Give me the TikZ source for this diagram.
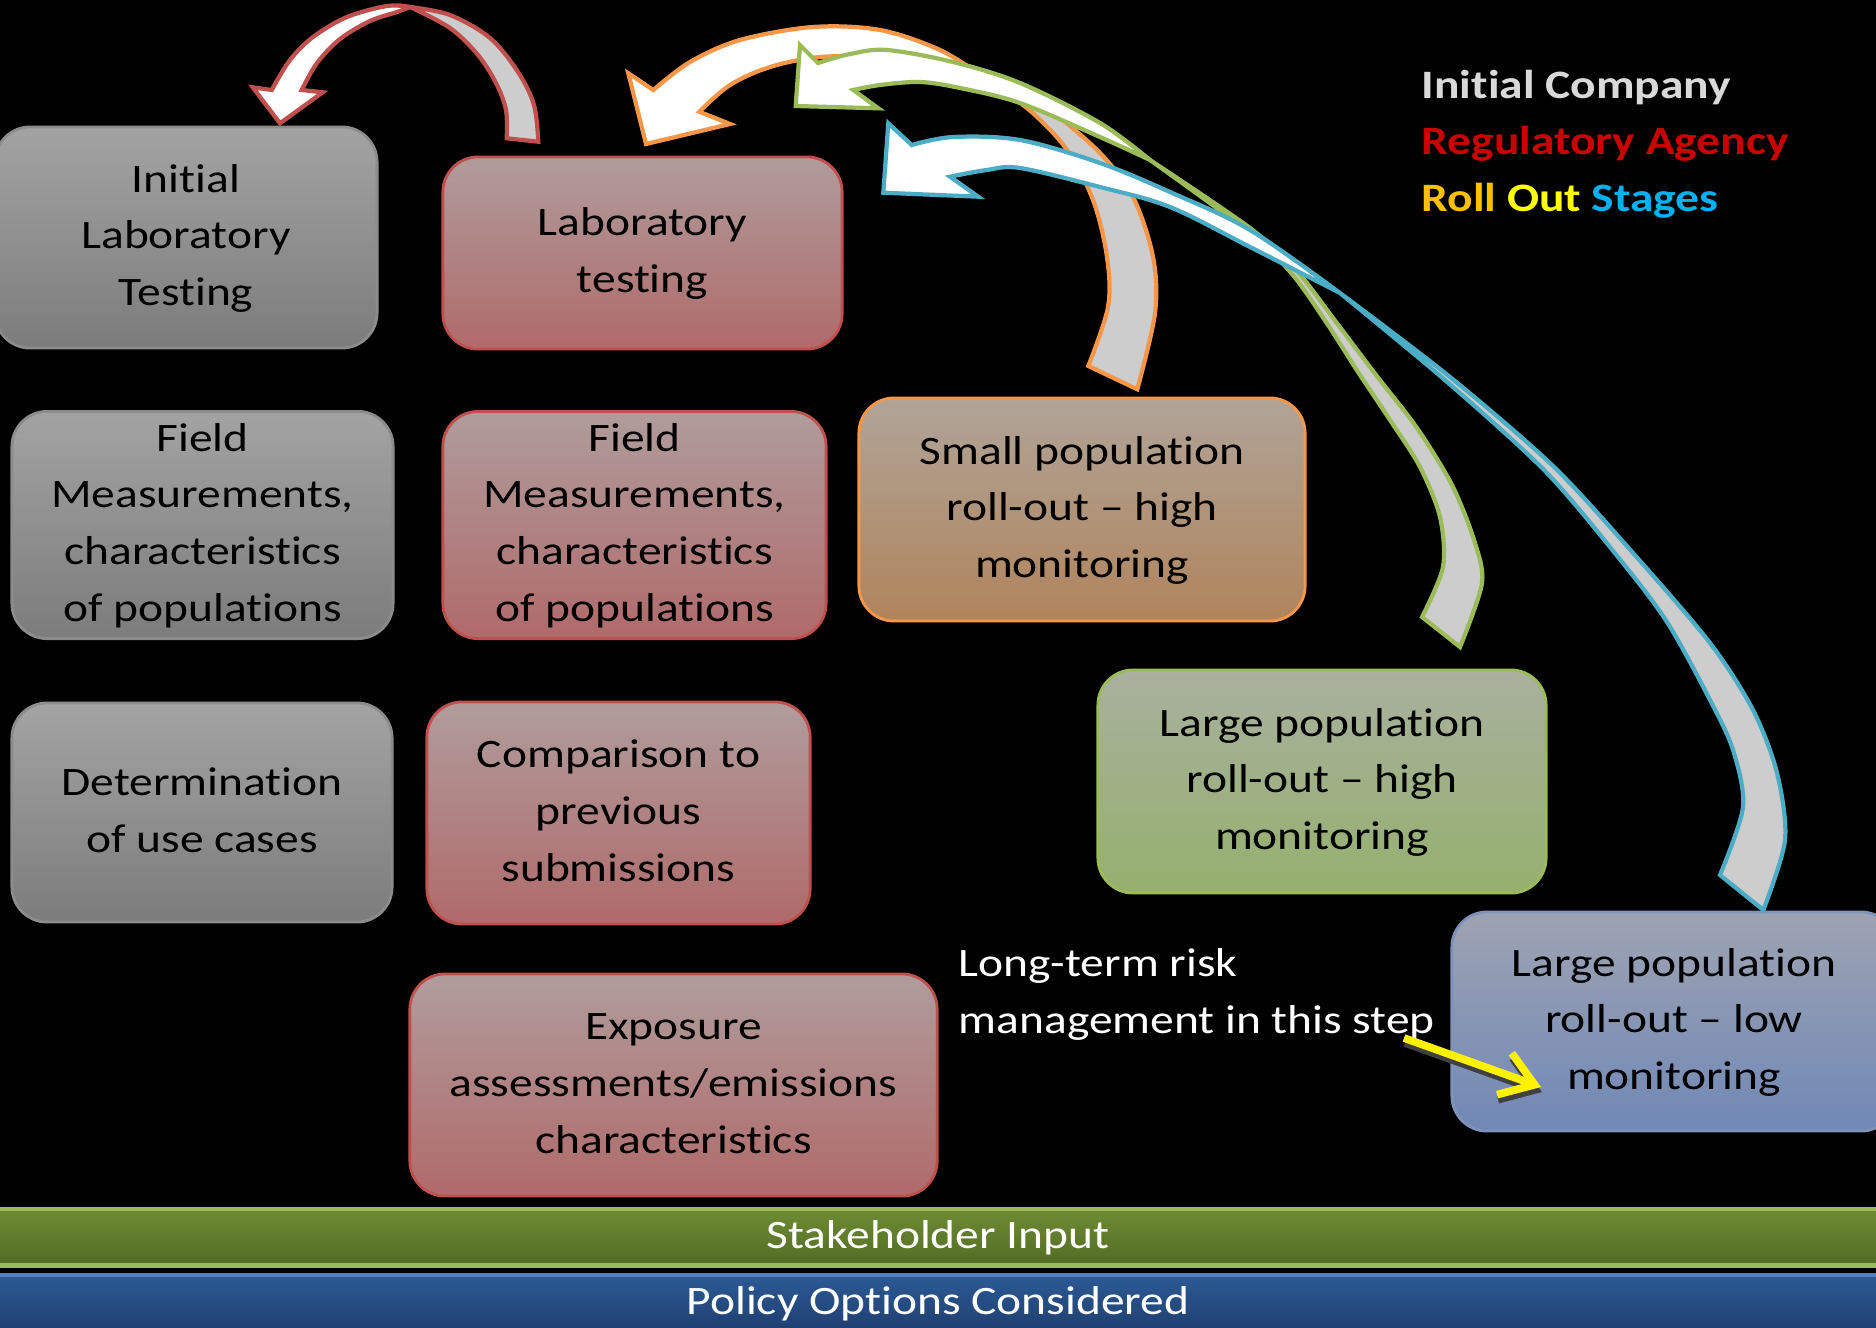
\documentclass[tikz,border=0pt]{standalone}
\usepackage{fontspec}
\setmainfont{Carlito}[Ligatures=NoCommon]
\usepackage{graphicx}
\usetikzlibrary{arrows.meta}

\definecolor{cobord}{HTML}{8C8C8C}
\definecolor{cotop}{HTML}{A3A3A3}
\definecolor{cobot}{HTML}{7C7C7C}
\definecolor{agbord}{HTML}{C0504D}
\definecolor{agtop}{HTML}{B09C9C}
\definecolor{agbot}{HTML}{B06A6A}
\definecolor{smbord}{HTML}{F79646}
\definecolor{smtop}{HTML}{B0A498}
\definecolor{smbot}{HTML}{B0845C}
\definecolor{lhbord}{HTML}{9BBB59}
\definecolor{lhtop}{HTML}{A9B09E}
\definecolor{lhbot}{HTML}{95B06E}
\definecolor{llbord}{HTML}{7F92B8}
\definecolor{lltop}{HTML}{9EA3B2}
\definecolor{llbot}{HTML}{7088B6}
\definecolor{turn}{HTML}{CDCDCD}
\definecolor{redarc}{HTML}{C0504D}
\definecolor{orangearc}{HTML}{F79646}
\definecolor{greenarc}{HTML}{9BBB59}
\definecolor{bluearc}{HTML}{4BACC6}
\definecolor{staketop}{HTML}{6E8C33}
\definecolor{stakebot}{HTML}{536B25}
\definecolor{policyline}{HTML}{4F81BD}
\definecolor{policytop}{HTML}{2C5A96}
\definecolor{policybot}{HTML}{1F3F6F}
\definecolor{cotext}{HTML}{D9D9D9}
\definecolor{agtext}{HTML}{CC0000}
\definecolor{rolltext}{HTML}{FFC000}
\definecolor{outtext}{HTML}{FFFF00}
\definecolor{stagestext}{HTML}{00B0F0}

\def\flatc#1{\scalebox{1}[0.85]{\begin{tabular}{@{}c@{}}#1\end{tabular}}}
\def\flatl#1{\scalebox{1}[0.85]{\begin{tabular}{@{}l@{}}#1\end{tabular}}}

\tikzset{
	stage/.style={rounded corners=10pt, inner sep=0pt, line width=0.8pt, font=\fontsize{13.5}{19}\selectfont},
	company/.style={stage, draw=cobord, top color=cotop, bottom color=cobot},
	agency/.style={stage, draw=agbord, top color=agtop, bottom color=agbot},
	smallpop/.style={stage, draw=smbord, top color=smtop, bottom color=smbot},
	largehigh/.style={stage, draw=lhbord, top color=lhtop, bottom color=lhbot},
	largelow/.style={stage, draw=llbord, top color=lltop, bottom color=llbot},
	bar/.style={inner sep=0pt, line width=1.2pt, text=white, font=\fontsize{13.5}{19}\selectfont},
	band/.style={line width=1.2pt, fill=white},
	backband/.style={line width=1.2pt, fill=turn},
	riskarrow/.style={line width=2.2pt, -{Straight Barb[length=3.2mm,width=4.4mm]}}
}

\begin{document}
\begin{tikzpicture}[x=0.01cm, y=-0.01cm]
			%%%%% BACKGROUND %%%%%
			\useasboundingbox (0,0) rectangle (1876,1327);
			\fill[black] (0,0) rectangle (1876,1327);
			
			%%%%% BOXES %%%%%
			\node[company, minimum width=3.82cm, minimum height=2.21cm] (iniLab) at (186,237.5) {\flatc{Initial\\Laboratory\\Testing}};
			\node[company, minimum width=3.81cm, minimum height=2.2cm] (coField) at (202.5,525) {\flatc{Field\\Measurements,\\characteristics\\of populations}};
			\node[company, minimum width=3.8cm, minimum height=2.19cm] (useCase) at (202,812.5) {\flatc{Determination\\of use cases}};
			
			\node[agency, minimum width=3.99cm, minimum height=1.92cm] (agLab) at (642.5,253) {\flatc{Laboratory\\testing}};
			\node[agency, minimum width=3.83cm, minimum height=2.22cm] (agField) at (634.5,525) {\flatc{Field\\Measurements,\\characteristics\\of populations}};
			\node[agency, minimum width=3.83cm, minimum height=2.22cm] (compare) at (618.5,813) {\flatc{Comparison to\\previous\\submissions}};
			\node[agency, minimum width=5.27cm, minimum height=2.22cm] (exposure) at (673.5,1085) {\flatc{Exposure\\assessments/emissions\\characteristics}};
			
			\node[smallpop, minimum width=4.46cm, minimum height=2.23cm] (smallHigh) at (1082,509.5) {\flatc{Small population\\roll-out -- high\\monitoring}};
			\node[largehigh, minimum width=4.48cm, minimum height=2.23cm] (largeHigh) at (1322,781.5) {\flatc{Large population\\roll-out -- high\\monitoring}};
			\node[largelow, minimum width=4.44cm, minimum height=2.19cm] (largeLow) at (1674,1021.5) {\flatc{Large population\\roll-out -- low\\monitoring}};
			
			%%%%% CURVED ARROWS %%%%%
			% red: lab testing back to initial testing
			\draw[backband, draw=redarc] plot[smooth, tension=.55] coordinates {(410,7) (450,15) (490,38) (518,72) (534,105) (538.3,141.7)} -- (506.7,138.3) -- plot[smooth, tension=.55] coordinates {(506.7,138.3) (506,110) (496,83) (478,55) (450,28) (410,7)} -- cycle;
			\draw[band, draw=redarc] (252.7,87.3) -- (271.7,90) -- plot[smooth, tension=.55] coordinates {(271.7,90) (290,60) (313,37) (347,17) (387,6) (410,7)} -- plot[smooth, tension=.55] coordinates {(410,7) (397,12) (370,21) (340,39) (317,63) (301.7,90)} -- (322.7,92.3) -- (280,123.3) -- cycle;
			
			% orange: small population roll-out
			\draw[backband, draw=orangearc] plot[smooth, tension=.55] coordinates {(985,78) (1015,88) (1050,110) (1100,153) (1133,197) (1153,257) (1155,313) (1137.3,389.3)} -- (1088.3,366) -- plot[smooth, tension=.55] coordinates {(1088.3,366) (1108,307) (1107,257) (1093,200) (1067,150) (1035,115) (1005,92) (985,78)} -- cycle;
			\draw[band, draw=orangearc] (628.3,73.3) -- (653.3,90) -- plot[smooth, tension=.55] coordinates {(653.3,90) (690,62) (740,40) (813,27) (880,30) (940,50) (985,78)} -- plot[smooth, tension=.55] coordinates {(985,78) (930,62) (880,57) (820,57) (770,67) (730,85) (699.3,111.7)} -- (730,124) -- (646,144) -- cycle;
			
			% green: large population, high monitoring
			\draw[backband, draw=greenarc] plot[smooth, tension=.5] coordinates {(1150,160) (1250,228) (1296,270) (1336,322) (1376,375) (1417,428) (1452,485) (1474,540) (1482,583) (1460,647)} -- (1422,617) -- plot[smooth, tension=.5] coordinates {(1422,617) (1443,567) (1440,517) (1420,467) (1390,420) (1358,372) (1326,322) (1292,274) (1250,233) (1150,160)} -- cycle;
			\draw[band, draw=greenarc] (800,45) -- (818,63) -- plot[smooth, tension=.55] coordinates {(818,63) (850,54) (887,50) (953,62) (1020,83) (1100,123) (1150,160)} -- plot[smooth, tension=.55] coordinates {(1150,160) (1100,137) (1020,103) (960,88) (920,82) (880,85) (853.3,90)} -- (878.3,108.3) -- (795.7,106) -- cycle;
			
			% blue: large population, low monitoring
			\draw[backband, draw=bluearc] plot[smooth, tension=.5] coordinates {(1340,293) (1450,377) (1553,466) (1633,553) (1710,643) (1753,710) (1777,773) (1785,840) (1763.3,910)} -- (1720,875) -- plot[smooth, tension=.5] coordinates {(1720,875) (1743,807) (1733,750) (1710,700) (1667,622) (1618,557) (1545,471) (1446,381) (1340,293)} -- cycle;
			\draw[band, draw=bluearc] (888.3,123.3) -- (911.7,145) -- plot[smooth, tension=.55] coordinates {(911.7,145) (953,137) (1020,140) (1100,163) (1170,192) (1250,230) (1340,293)} -- plot[smooth, tension=.55] coordinates {(1340,293) (1250,247) (1170,207) (1100,187) (1020,168) (986.7,170) (950,176.7)} -- (978.3,196.7) -- (883.3,192.7) -- cycle;
			
			%%%%% LEGEND AND NOTE %%%%%
			\node[anchor=west, inner sep=0pt, font=\fontsize{13.5}{19}\selectfont\bfseries] (legend) at (1421,143.5) {\flatl{\textcolor{cotext}{Initial Company}\\\textcolor{agtext}{Regulatory Agency}\\\textcolor{rolltext}{Roll} \textcolor{outtext}{Out} \textcolor{stagestext}{Stages}}};
			\node[anchor=west, inner sep=0pt, text=white, font=\fontsize{13.5}{19}\selectfont] (note) at (958,993.5) {\flatl{Long-term risk\\management in this step}};
			
			\coordinate (riskFrom) at (1404,1038);
			\coordinate (riskTo) at (1541,1087);
			\draw[riskarrow, black!75] ([shift={(1,5)}]riskFrom) -- ([shift={(1,5)}]riskTo);
			\draw[riskarrow, yellow] (riskFrom) -- (riskTo);
			
			%%%%% BARS %%%%%
			\node[bar, draw=lhbord, top color=staketop, bottom color=stakebot, minimum width=19cm, minimum height=0.5cm] (stake) at (938,1237) {\flatc{Stakeholder Input}};
			\node[bar, draw=policyline, top color=policytop, bottom color=policybot, minimum width=19cm, minimum height=0.54cm] (policy) at (938,1303) {\flatc{Policy Options Considered}};
\end{tikzpicture}
\end{document}
